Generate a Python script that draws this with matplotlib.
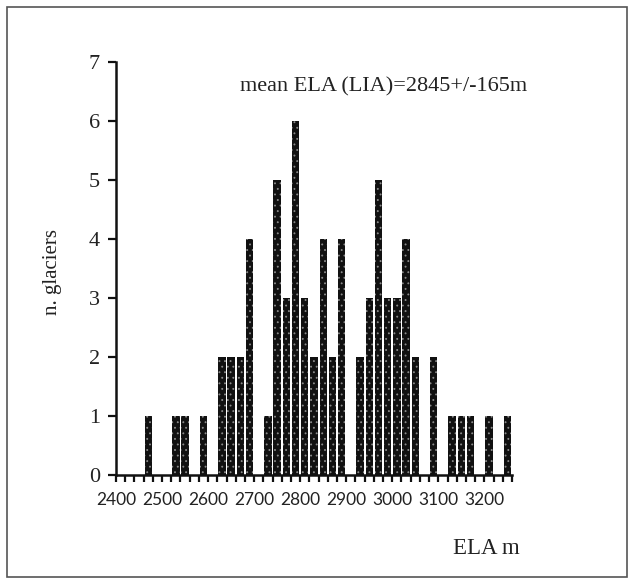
import numpy as np
import matplotlib
matplotlib.use("Agg")
import matplotlib.pyplot as plt
from matplotlib.patches import Rectangle

# ELA bins (left edge, m) and number of glaciers per bin
bin_left = np.arange(2400, 3260, 20)
n_glaciers = [0, 0, 0, 1, 0, 0, 1, 1, 0, 1,
              0, 2, 2, 2, 4, 0, 1, 5, 3, 6,
              3, 2, 4, 2, 4, 0, 2, 3, 5, 3,
              3, 4, 2, 0, 2, 0, 1, 1, 1, 0,
              1, 0, 1]
bin_width = 20
x_labels = [2400, 2500, 2600, 2700, 2800, 2900, 3000, 3100, 3200]
y_labels = [0, 1, 2, 3, 4, 5, 6, 7]
note = "mean ELA (LIA)=2845+/-165m"

serif = "Liberation Serif"

fig = plt.figure(figsize=(6.34, 5.83), dpi=100)
ax = fig.add_axes([116 / 634, 1 - 475 / 583, 396 / 634, (475 - 61.7) / 583])

centers = bin_left + bin_width / 2
ax.bar(centers, n_glaciers, width=16, color="#111111", edgecolor="none")
# stippled look of the original bars
plt.rcParams["hatch.linewidth"] = 0.6
ax.bar(centers, n_glaciers, width=16, facecolor="none", edgecolor="#8a8a8a",
       linewidth=0, hatch="...")

ax.set_xlim(2400, 3260)
ax.set_ylim(0, 7)
for s in ["top", "right"]:
    ax.spines[s].set_visible(False)
for s in ["left", "bottom"]:
    ax.spines[s].set_linewidth(1.8)
    ax.spines[s].set_color("#111111")

ax.set_xticks(x_labels)
ax.set_xticks(np.arange(2400, 3261, 20), minor=True)
ax.set_xticklabels([str(v) for v in x_labels], family="Lato", fontsize=12.5,
                   color="#222222")
ax.tick_params(axis="x", which="both", direction="out", length=5, width=1.6,
               color="#111111", pad=7)
ax.set_yticks(y_labels)
ax.set_yticklabels([str(v) for v in y_labels], family=serif, fontsize=16,
                   color="#222222")
ax.tick_params(axis="y", direction="out", length=6, width=1.6,
               color="#111111", pad=5.5)

fig.text(240 / 634, 1 - 87 / 583, note, family=serif, fontsize=16,
         ha="left", va="center", color="#222222")
fig.text(486 / 634, 1 - 548 / 583, "ELA m", family=serif, fontsize=16.5,
         ha="center", va="center", color="#222222")
fig.text(52 / 634, 1 - 272 / 583, "n. glaciers", family=serif, fontsize=15,
         rotation=90, ha="center", va="center", color="#222222")

# outer frame
fig.patches.append(Rectangle((7 / 634, 6 / 583), 620 / 634, 570 / 583,
                             transform=fig.transFigure, fill=False,
                             edgecolor="#555555", linewidth=1.2))

fig.savefig("out.png", dpi=100)
